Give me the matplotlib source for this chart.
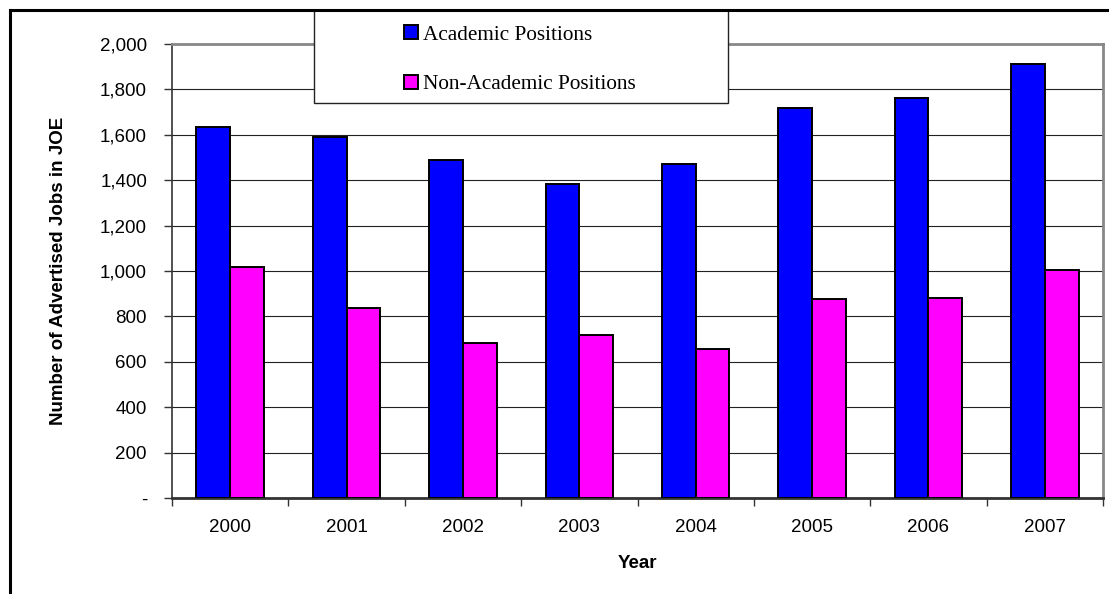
import matplotlib.pyplot as plt
import numpy as np
from matplotlib.patches import Rectangle
from matplotlib.lines import Line2D
from matplotlib.ticker import FuncFormatter

years = ['2000', '2001', '2002', '2003', '2004', '2005', '2006', '2007']
academic = [1636, 1590, 1487, 1382, 1473, 1717, 1760, 1910]
non_academic = [1016, 836, 681, 720, 656, 877, 882, 1004]

W, H = 1109, 594
fig = plt.figure(figsize=(W / 100, H / 100), dpi=100)
ax = fig.add_axes([172 / W, 1 - 498 / H, (1103 - 172) / W, (498 - 44) / H])

x = np.arange(len(years))
bw = 0.29
b1 = ax.bar(x - bw / 2, academic, bw, color='#0000ff', edgecolor='black',
            linewidth=1.4, label='Academic Positions', zorder=3)
b2 = ax.bar(x + bw / 2, non_academic, bw, color='#ff00ff', edgecolor='black',
            linewidth=1.4, label='Non-Academic Positions', zorder=3)

ax.set_xlim(-0.5, 7.5)
ax.set_ylim(0, 2000)
ax.set_yticks(range(0, 2001, 200))
ax.yaxis.set_major_formatter(FuncFormatter(lambda v, p: '-' if v == 0 else f'{int(v):,}'))
ax.yaxis.grid(True, color='#222222', linewidth=0.8, zorder=0)
ax.set_axisbelow(True)

fs = 13.5
ax.set_xticks(x)
ax.set_xticklabels(years)
ax.set_xticks(np.arange(-0.5, 8, 1), minor=True)
ax.tick_params(axis='x', which='major', length=0, pad=15, labelsize=fs)
ax.tick_params(axis='x', which='minor', length=6, width=1, color='#333333', direction='out')
ax.tick_params(axis='y', length=6, width=1, color='#333333', pad=12, labelsize=fs)

for s in ['top', 'right']:
    ax.spines[s].set_color('#888888')
    ax.spines[s].set_linewidth(2)
ax.spines['left'].set_color('#333333')
ax.spines['left'].set_linewidth(1.2)
ax.spines['bottom'].set_color('#333333')
ax.spines['bottom'].set_linewidth(2)

ax.set_xlabel('Year', fontweight='bold', fontsize=fs, labelpad=14,
              family='Liberation Sans')
ax.set_ylabel('Number of Advertised Jobs in JOE', fontweight='bold', fontsize=fs,
              labelpad=24, family='Liberation Sans')
for lab in ax.get_xticklabels() + ax.get_yticklabels():
    lab.set_family('Liberation Sans')

# legend box
fig.add_artist(Rectangle((314 / W, 1 - 103 / H), (728 - 314) / W, 93 / H,
                         transform=fig.transFigure, facecolor='white',
                         edgecolor='#222222', linewidth=1, zorder=3))
fig.legend(handles=[b1, b2], loc='upper left', bbox_to_anchor=(404 / W, 1 - 25 / H),
           frameon=False, prop={'family': 'Liberation Serif', 'size': 15.3},
           handlelength=0.65, handleheight=0.65, handletextpad=0.25,
           labelspacing=1.42, borderpad=0, borderaxespad=0)

# outer frame (top and left edges visible)
fig.add_artist(Line2D([10 / W, 1], [1 - 10 / H, 1 - 10 / H], transform=fig.transFigure,
                      color='black', linewidth=2.2, zorder=4))
fig.add_artist(Line2D([10 / W, 10 / W], [0, 1 - 10 / H], transform=fig.transFigure,
                      color='black', linewidth=2.2, zorder=4))

fig.savefig('out.png', dpi=100)
